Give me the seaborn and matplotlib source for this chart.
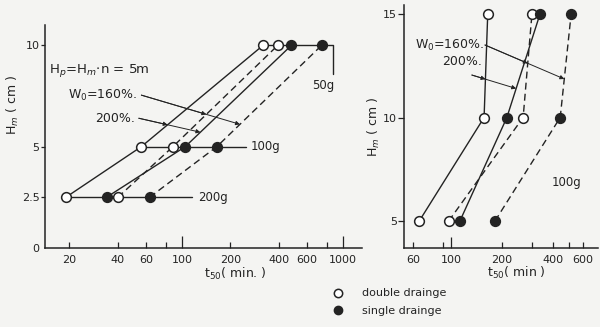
import numpy as np
import pandas as pd
import seaborn as sns
import matplotlib.pyplot as plt
from matplotlib.lines import Line2D

# left panel (Hp = Hm*n = 5 m), one row per sample weight
left_h = [2.5, 5, 10]
left_double_200 = [19, 56, 320]
left_double_160 = [40, 88, 395]
left_single_200 = [34, 105, 480]
left_single_160 = [63, 165, 740]
left_xticks = [20, 40, 60, 100, 200, 400, 600, 1000]
left_minor = [80, 800]
left_yticks = [0, 2.5, 5, 10]
row_labels = ['200g', '100g', '50g']

# right panel (100 g)
right_h = [5, 10, 15]
right_double_200 = [65, 157, 165]
right_double_160 = [97, 267, 301]
right_single_200 = [113, 214, 336]
right_single_160 = [182, 442, 513]
right_xticks = [60, 100, 200, 400, 600]
right_minor = [90, 300, 500]
right_yticks = [5, 10, 15]

INK = '#232323'
PAPER = '#f4f4f2'


def to_frame(h, series):
    rows = []
    for (drain, wo), ts in series.items():
        for hh, t in zip(h, ts):
            rows.append({'H': hh, 't': t, 'drain': drain, 'wo': wo})
    return pd.DataFrame(rows)


left = to_frame(left_h, {('double', 200): left_double_200, ('double', 160): left_double_160,
                         ('single', 200): left_single_200, ('single', 160): left_single_160})
right = to_frame(right_h, {('double', 200): right_double_200, ('double', 160): right_double_160,
                           ('single', 200): right_single_200, ('single', 160): right_single_160})

sns.set_theme(style='ticks')
plt.rcParams['font.family'] = ['DejaVu Sans']
plt.rcParams.update({'axes.edgecolor': INK, 'xtick.color': INK, 'ytick.color': INK,
                     'text.color': INK, 'axes.labelcolor': INK, 'axes.linewidth': 1.1})

fig = plt.figure(figsize=(6, 3.27), dpi=100, facecolor=PAPER)
ax1 = fig.add_axes([0.075, 0.2416, 0.528, 0.682])
ax2 = fig.add_axes([0.673, 0.2416, 0.324, 0.743])


def draw_series(ax, d):
    for (drain, wo), g in d.groupby(['drain', 'wo']):
        ls = '-' if wo == 200 else (0, (5, 3))
        face = 'white' if drain == 'double' else INK
        sns.lineplot(data=g, x='t', y='H', ax=ax, sort=False, color=INK, lw=1.0,
                     linestyle=ls, marker='o', markersize=7, markerfacecolor=face,
                     markeredgecolor=INK, markeredgewidth=1.1, zorder=3)


def series(d, drain, wo):
    g = d[(d.drain == drain) & (d.wo == wo)].sort_values('H')
    return g.H.values, g.t.values


def t_at(d, drain, wo, h):
    hs, ts = series(d, drain, wo)
    return 10 ** np.interp(h, hs, np.log10(ts))


def crossing(d, drain, wo, p0, p1):
    # where the straight pointer p0->p1 (log t, H) meets a series line
    hs, ts = series(d, drain, wo)
    s = np.linspace(0, 1, 2000)
    lt = np.log10(p0[0]) + s * (np.log10(p1[0]) - np.log10(p0[0]))
    hh = p0[1] + s * (p1[1] - p0[1])
    diff = lt - np.interp(hh, hs, np.log10(ts))
    i = np.where(np.sign(diff[:-1]) != np.sign(diff[1:]))[0]
    i = i[0] if len(i) else len(s) - 1
    return 10 ** lt[i], hh[i]


def pointer(ax, d, text, tpos, start, far, near, size=9):
    ax.text(tpos[0], tpos[1], text, ha='right', va='center', fontsize=size)
    end = (t_at(d, far[0], far[1], far[2]), far[2])
    ax.annotate('', xy=end, xytext=start,
                arrowprops=dict(arrowstyle='-|>', lw=0.7, color=INK, mutation_scale=6,
                                shrinkA=0, shrinkB=0))
    mid = crossing(d, near[0], near[1], start, end)
    ax.annotate('', xy=mid, xytext=start,
                arrowprops=dict(arrowstyle='-|>', lw=0.7, color=INK, mutation_scale=6,
                                shrinkA=0, shrinkB=0))


# left panel
for h, lab in zip(left_h, row_labels):
    row = left[left.H == h]
    if lab == '50g':
        ax1.plot([row.t.min(), 866, 866], [h, h, 8.6], color=INK, lw=1.0, zorder=2)
        ax1.text(757, 8.0, lab, ha='center', va='center', fontsize=8.5)
    else:
        end, tx = (115, 126) if lab == '200g' else (250, 268)
        ax1.plot([row.t.min(), end], [h, h], color=INK, lw=1.0, zorder=2)
        ax1.text(tx, h, lab, ha='left', va='center', fontsize=8.5)
draw_series(ax1, left)

ax1.text(14.9, 8.77, r'H$_p$=H$_m$$\cdot$n = 5m', ha='left', va='center', fontsize=9.5)
pointer(ax1, left, 'W$_0$=160%.', (53, 7.54), (56, 7.54), ('single', 160, 6.1), ('double', 160))
pointer(ax1, left, '200%.', (51, 6.40), (54, 6.40), ('single', 200, 5.71), ('double', 200))

ax1.set_xscale('log')
ax1.set_xlim(14.1, 1313)
ax1.set_ylim(0, 11.0)
ax1.set_xticks(left_xticks + left_minor)
ax1.set_xticklabels([str(v) for v in left_xticks] + ['' for _ in left_minor])
ax1.xaxis.set_minor_locator(plt.NullLocator())
ax1.set_yticks(left_yticks)
ax1.set_yticklabels(['0', '2.5', '5', '10'])
ax1.tick_params(axis='x', direction='in', length=4, width=0.9, labelsize=8, pad=5)
ax1.tick_params(axis='y', direction='out', length=3, width=0.9, labelsize=8, pad=1)
for tk, v in zip(ax1.xaxis.get_major_ticks(), left_xticks + left_minor):
    if v in (100, 1000):
        tk.tick1line.set_markersize(9)
ax1.yaxis.get_major_ticks()[0].tick1line.set_markersize(0)
ax1.set_xlabel('t$_{50}$( min. )', fontsize=9)
ax1.xaxis.set_label_coords(0.60, -0.08)
ax1.set_ylabel('H$_m$ ( cm )', fontsize=9)
ax1.yaxis.set_label_coords(-0.075, 0.64)

# right panel
draw_series(ax2, right)
ax2.text(480, 6.84, '100g', ha='center', va='center', fontsize=8.5)
pointer(ax2, right, 'W$_0$=160%.', (157, 13.5), (159, 13.5), ('single', 160, 11.86), ('double', 160))
pointer(ax2, right, '200%.', (152, 12.68), (133, 12.05), ('single', 200, 11.4), ('double', 200))

ax2.set_xscale('log')
ax2.set_xlim(52.7, 741)
ax2.set_ylim(3.70, 15.43)
ax2.set_xticks(right_xticks + right_minor)
ax2.set_xticklabels([str(v) for v in right_xticks] + ['' for _ in right_minor])
ax2.xaxis.set_minor_locator(plt.NullLocator())
ax2.set_yticks(right_yticks)
ax2.tick_params(axis='x', direction='in', length=4, width=0.9, labelsize=8, pad=5)
ax2.tick_params(axis='y', direction='out', length=4, width=0.9, labelsize=8, pad=1)
for tk, v in zip(ax2.xaxis.get_major_ticks(), right_xticks + right_minor):
    if v == 100:
        tk.tick1line.set_markersize(8)
ax2.set_xlabel('t$_{50}$( min )', fontsize=9)
ax2.xaxis.set_label_coords(0.58, -0.07)
ax2.set_ylabel('H$_m$ ( cm )', fontsize=9)
ax2.yaxis.set_label_coords(-0.11, 0.5)

for ax in (ax1, ax2):
    ax.set_facecolor(PAPER)
    sns.despine(ax=ax)

handles = [Line2D([], [], ls='none', marker='o', markersize=6, markerfacecolor='white',
                  markeredgecolor=INK, markeredgewidth=1.1),
           Line2D([], [], ls='none', marker='o', markersize=6, markerfacecolor=INK,
                  markeredgecolor=INK)]
fig.legend(handles, ['double drainge', 'single drainge'], loc='upper left',
           bbox_to_anchor=(0.554, 0.118), frameon=False, fontsize=8, borderpad=0,
           borderaxespad=0, handlelength=1.0, handletextpad=1.68, labelspacing=0.7)

fig.savefig('out.png', dpi=100, facecolor=PAPER)
